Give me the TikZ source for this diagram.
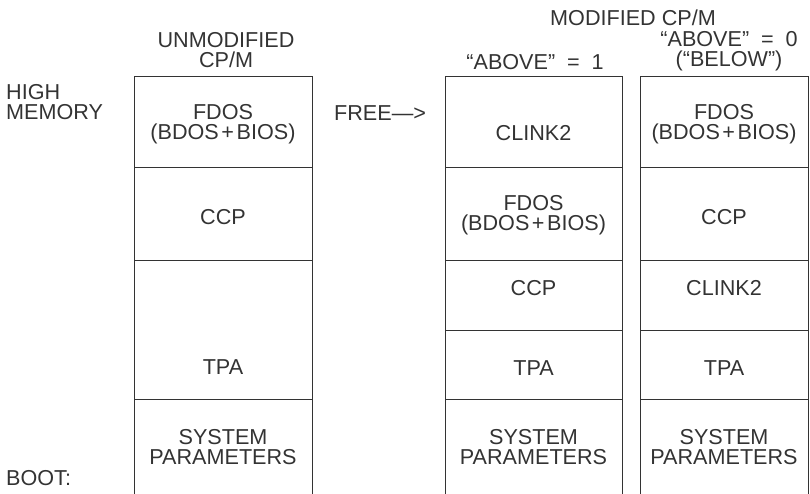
\documentclass[tikz,border=0pt]{standalone}
\usepackage{fontspec}
\setmainfont{Liberation Sans}
\definecolor{ink}{HTML}{333333}
\newcommand{\eqsp}{\hspace{0.55em}=\hspace{0.55em}}
\newcommand{\plsp}{\hspace{0.12em}+\hspace{0.12em}}
\begin{document}
\begin{tikzpicture}[x=1pt,y=-1pt,
  lbl/.style={text=ink,font=\fontsize{21.6}{20.5}\selectfont,align=center,inner sep=0pt},
  wall/.style={draw=ink,line width=1pt}]
\useasboundingbox (0,0) rectangle (810,494);
% column outlines
\draw[wall] (134,494) -- (134,77) -- (312,77) -- (312,494);
\draw[wall] (445,494) -- (445,77) -- (622,77) -- (622,494);
\draw[wall] (640,494) -- (640,77) -- (808.5,77) -- (808.5,494);
% dividers
\foreach \y in {168,260,399} \draw[wall] (134,\y) -- (312,\y);
\foreach \y in {168,260,330,399} \draw[wall] (445,\y) -- (622,\y);
\foreach \y in {168,260,330,399} \draw[wall] (640,\y) -- (808.5,\y);
% headings
\node[lbl] (hu) at (226,50) {UNMODIFIED\\CP/M};
\node[lbl] (hm) at (633,18) {MODIFIED CP/M};
\node[lbl] (ha1) at (535,62) {“ABOVE”\eqsp1};
\node[lbl] (ha0) at (729,51) {“ABOVE”\eqsp0\\(“BELOW”)};
\node[lbl,anchor=west,align=left] (high) at (6,102) {HIGH\\MEMORY};
\node[lbl,anchor=west] (boot) at (6,478) {BOOT:};
\node[lbl,anchor=west] (free) at (334,113) {FREE—>};
% column 1
\node[lbl] (u1) at (223,124) {FDOS\\(BDOS\plsp BIOS)};
\node[lbl] (u2) at (223,217) {CCP};
\node[lbl] (u3) at (223,367) {TPA};
\node[lbl] (u4) at (223,447) {SYSTEM\\PARAMETERS};
% column 2
\node[lbl] (a1) at (533.5,133) {CLINK2};
\node[lbl] (a2) at (533.5,215) {FDOS\\(BDOS\plsp BIOS)};
\node[lbl] (a3) at (533.5,288) {CCP};
\node[lbl] (a4) at (533.5,368) {TPA};
\node[lbl] (a5) at (533.5,447) {SYSTEM\\PARAMETERS};
% column 3
\node[lbl] (b1) at (724,124) {FDOS\\(BDOS\plsp BIOS)};
\node[lbl] (b2) at (724,217) {CCP};
\node[lbl] (b3) at (724,288) {CLINK2};
\node[lbl] (b4) at (724,368) {TPA};
\node[lbl] (b5) at (724,447) {SYSTEM\\PARAMETERS};
\end{tikzpicture}
\end{document}
